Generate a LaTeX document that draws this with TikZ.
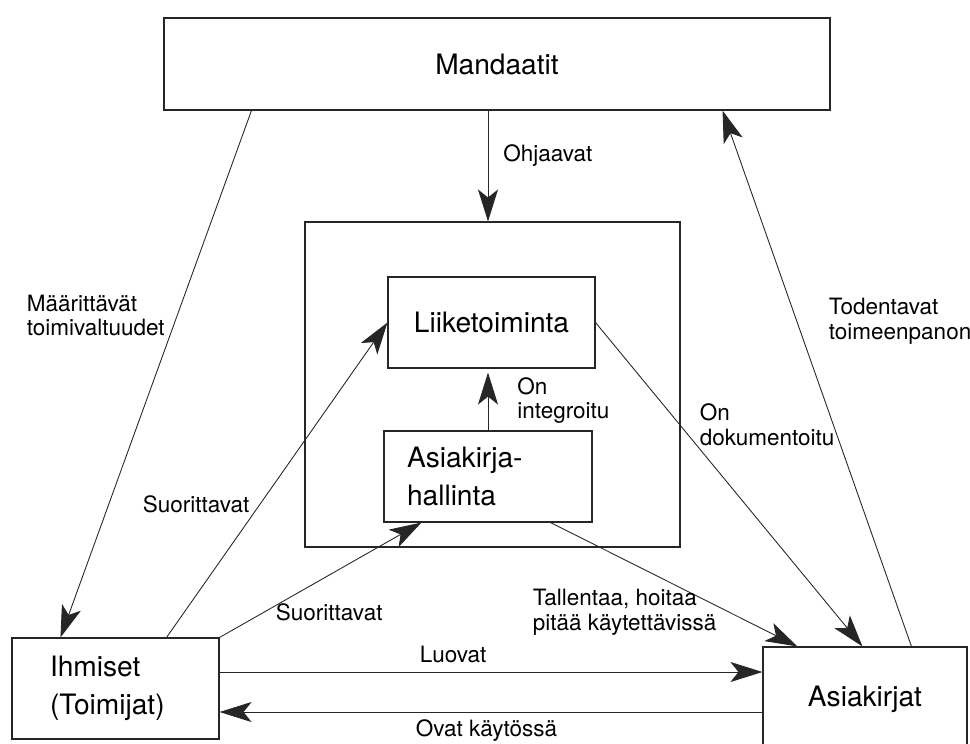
\documentclass[tikz,border=0pt]{standalone}
\usepackage{fontspec}
\setmainfont{TeX Gyre Heros}
\usetikzlibrary{calc}
\usetikzlibrary{positioning}
\usetikzlibrary{arrows.meta}
\tikzstyle{boxnode} = [draw=black!85, line width=0.6pt, font=\fontsize{16}{21.6}\selectfont]
\tikzstyle{lblnode} = [inner sep=0pt, anchor=west, align=left, font=\fontsize{12.8}{14.2}\selectfont]
\tikzstyle{conn} = [draw=black!85, line width=0.5pt, -{Stealth[length=6.4mm, width=4mm, inset=1.6mm]}]

\begin{document}
\begin{tikzpicture}
    \useasboundingbox (0,0) rectangle (19.4,-14.86);

    \node[boxnode, minimum width=13.32cm, minimum height=1.84cm] (box_mand) at (9.94,-1.28) {Mandaatit};
    \node[boxnode, minimum width=7.5cm, minimum height=6.5cm] (box_frame) at ($(box_mand)+(-0.09,-6.41)$) {};
    \node[boxnode, minimum width=4.14cm, minimum height=1.82cm] (box_liike) at ($(box_frame)+(-0.02,1.24)$) {Liiketoiminta};
    \node[boxnode, align=left, text width=3.24cm, inner xsep=0.46cm, minimum height=1.82cm] (box_akh) at ($(box_frame)+(-0.09,-1.84)$) {Asiakirja-\\hallinta};
    \node[boxnode, align=left, text width=2.62cm, inner xsep=0.76cm, minimum height=2.02cm] (box_ihm) at ($(box_mand)+(-7.63,-12.49)$) {Ihmiset\\(Toimijat)};
    \node[boxnode, minimum width=4.08cm, minimum height=2.1cm] (box_akj) at ($(box_mand)+(7.36,-12.71)$) {Asiakirjat};

    \coordinate (luo_start) at ($(box_ihm.east)+(0,0.33)$);
    \coordinate (ovat_end) at ($(box_ihm.east)+(0,-0.47)$);

    \draw[conn] (box_mand.south -| box_akh.north) -- (box_frame.north -| box_akh.north);
    \draw[conn] ($(box_mand.south west)+(1.76,0)$) -- ($(box_ihm.north west)+(0.98,0)$);
    \draw[conn] ($(box_akj.north west)+(2.98,0)$) -- ($(box_mand.south east)+(-2.16,0)$);
    \draw[conn] (box_liike.east) -- ($(box_akj.north west)+(2.0,0)$);
    \draw[conn] ($(box_akh.south east)+(-0.84,0)$) -- ($(box_akj.north west)+(0.7,0)$);
    \draw[conn] ($(box_ihm.north east)+(-1.06,0)$) -- (box_liike.west);
    \draw[conn] (box_ihm.north east) -- ($(box_akh.south west)+(0.76,0)$);
    \draw[conn, shorten >=0.08cm] (box_akh.north) -- (box_akh.north |- box_liike.south);
    \draw[conn] (luo_start) -- (luo_start -| box_akj.west);
    \draw[conn] (ovat_end -| box_akj.west) -- (ovat_end);

    \node[lblnode] (lbl_ohj) at ($(box_mand.south)+(0.12,-0.9)$) {Ohjaavat};
    \node[lblnode] (lbl_maar) at ($(box_ihm.north west)+(0.3,6.44)$) {Määrittävät\\toimivaltuudet};
    \node[lblnode] (lbl_tod) at ($(box_akj.north west)+(1.32,6.51)$) {Todentavat\\toimeenpanon};
    \node[lblnode] (lbl_dok) at ($(box_akj.north west)+(-1.26,4.44)$) {On\\dokumentoitu};
    \node[lblnode] (lbl_int) at ($(box_liike.south)+(0.51,-0.64)$) {On\\integroitu};
    \node[lblnode] (lbl_suo1) at ($(box_ihm.north west)+(2.62,2.66)$) {Suorittavat};
    \node[lblnode] (lbl_suo2) at ($(box_ihm.north east)+(1.12,0.5)$) {Suorittavat};
    \node[lblnode] (lbl_tal) at ($(box_akh.south west)+(2.98,-1.8)$) {Tallentaa, hoitaa\\pitää käytettävissä};
    \node[lblnode] (lbl_luo) at ($(box_ihm.east)+(4.0,0.69)$) {Luovat};
    \node[lblnode] (lbl_ovat) at ($(box_ihm.east)+(3.92,-0.85)$) {Ovat käytössä};
\end{tikzpicture}
\end{document}
